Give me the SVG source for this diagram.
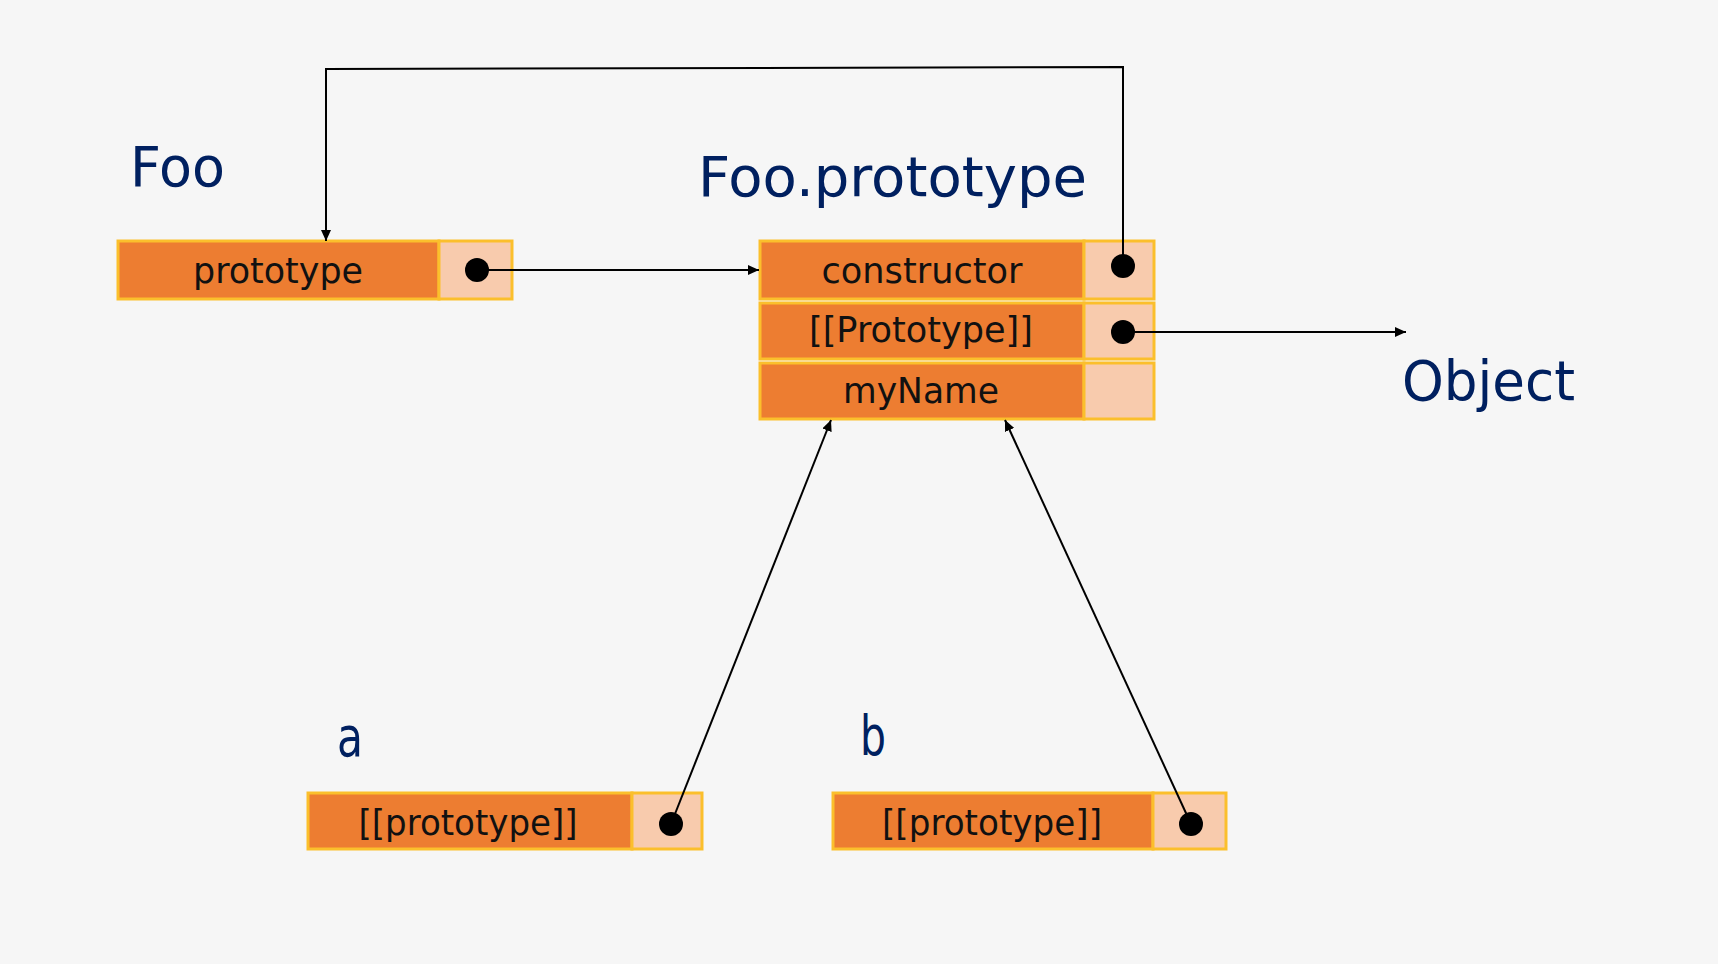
<svg xmlns="http://www.w3.org/2000/svg" width="1718" height="964" viewBox="0 0 1718 964">
<defs>
<style>
.bg{fill:#F6F6F6}
.key{fill:#ED7D31;stroke:#FBBF2C;stroke-width:3}
.val{fill:#F8CBAD;stroke:#FBBF2C;stroke-width:3}
.dot{fill:#000}
.lbl{font-family:"DejaVu Sans",sans-serif;font-size:35px;fill:#111;text-anchor:middle}
.ttl{font-family:"DejaVu Sans",sans-serif;font-size:55px;fill:#002060}
.edge{fill:none;stroke:#000;stroke-width:2}
</style>
<marker id="ah" markerUnits="userSpaceOnUse" markerWidth="12" markerHeight="10" refX="11" refY="5" orient="auto">
<path d="M0,0 L11,5 L0,10 z" fill="#000"/>
</marker>
</defs>
<rect class="bg" x="0" y="0" width="1718" height="964"/>

<g id="foo">
<text class="ttl" x="130" y="186" textLength="95" lengthAdjust="spacingAndGlyphs">Foo</text>
<rect class="key" x="118" y="241" width="321" height="58"/>
<rect class="val" x="439" y="241" width="73" height="58"/>
<text class="lbl" x="278" y="283" textLength="170" lengthAdjust="spacingAndGlyphs">prototype</text>
<circle class="dot" cx="477" cy="270" r="12"/>
</g>

<g id="foo-prototype">
<text class="ttl" x="698" y="196" textLength="389" lengthAdjust="spacingAndGlyphs">Foo.prototype</text>
<rect class="key" x="760" y="241" width="324" height="58"/>
<rect class="val" x="1084" y="241" width="70" height="58"/>
<text class="lbl" x="922" y="283" textLength="201" lengthAdjust="spacingAndGlyphs">constructor</text>
<circle class="dot" cx="1123" cy="266" r="12"/>
<rect class="key" x="760" y="303" width="324" height="56"/>
<rect class="val" x="1084" y="303" width="70" height="56"/>
<text class="lbl" x="921" y="342" textLength="224" lengthAdjust="spacingAndGlyphs">[[Prototype]]</text>
<circle class="dot" cx="1123" cy="332" r="12"/>
<rect class="key" x="760" y="363" width="324" height="56"/>
<rect class="val" x="1084" y="363" width="70" height="56"/>
<text class="lbl" x="921" y="403" textLength="156" lengthAdjust="spacingAndGlyphs">myName</text>
</g>

<g id="object">
<text class="ttl" x="1402" y="400" textLength="173" lengthAdjust="spacingAndGlyphs">Object</text>
</g>

<g id="a">
<text class="ttl" x="337" y="756" textLength="26" lengthAdjust="spacingAndGlyphs">a</text>
<rect class="key" x="308" y="793" width="324" height="56"/>
<rect class="val" x="632" y="793" width="70" height="56"/>
<text class="lbl" x="468" y="835" textLength="219" lengthAdjust="spacingAndGlyphs">[[prototype]]</text>
<circle class="dot" cx="671" cy="824" r="12"/>
</g>

<g id="b">
<text class="ttl" x="860" y="755" textLength="26" lengthAdjust="spacingAndGlyphs">b</text>
<rect class="key" x="833" y="793" width="320" height="56"/>
<rect class="val" x="1153" y="793" width="73" height="56"/>
<text class="lbl" x="992" y="835" textLength="220" lengthAdjust="spacingAndGlyphs">[[prototype]]</text>
<circle class="dot" cx="1191" cy="824" r="12"/>
</g>

<g id="connectors">
<path class="edge" d="M477,270 L759,270" marker-end="url(#ah)"/>
<path class="edge" d="M1123,266 L1123,67 L326,69 L326,241" marker-end="url(#ah)"/>
<path class="edge" d="M1123,332 L1406,332" marker-end="url(#ah)"/>
<path class="edge" d="M671,824 L831,420" marker-end="url(#ah)"/>
<path class="edge" d="M1191,824 L1005,420" marker-end="url(#ah)"/>
</g>
</svg>
